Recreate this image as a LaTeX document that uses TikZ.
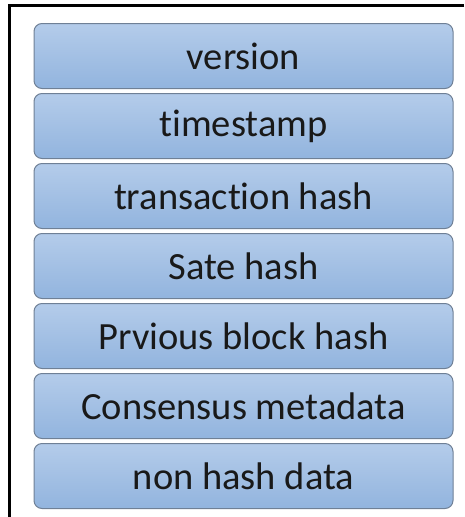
\documentclass[tikz,border=0pt]{standalone}
\usepackage{fontspec}
\setmainfont[Ligatures=NoCommon]{Carlito}
\usetikzlibrary{positioning}
\definecolor{FieldTop}{HTML}{B4CCEA}
\definecolor{FieldBottom}{HTML}{92B4DE}
\definecolor{FieldEdge}{HTML}{6F8096}

\begin{document}
\begin{tikzpicture}[
	x=1pt, y=-1pt,
	node distance=4pt,
	field/.style={draw=FieldEdge, line width=1pt, rounded corners=8pt,
		top color=FieldTop, bottom color=FieldBottom,
		minimum width=419pt, minimum height=65pt, inner sep=0pt,
		text=black!90, font=\fontsize{38.5}{46}\selectfont}
]
\useasboundingbox (0,0) rectangle (464,517);
\draw[line width=3pt] (464,5) -- (9.5,5) -- (9.5,517);

\node[field, anchor=north] (version) at (243.5,23) {version};
\node[field, below=of version] (timestamp) {timestamp};
\node[field, below=of timestamp] (txhash) {transaction hash};
\node[field, below=of txhash] (statehash) {Sate hash};
\node[field, below=of statehash] (prevhash) {Prvious block hash};
\node[field, below=of prevhash] (consensus) {Consensus metadata};
\node[field, below=of consensus] (nonhash) {non hash data};
\end{tikzpicture}
\end{document}
